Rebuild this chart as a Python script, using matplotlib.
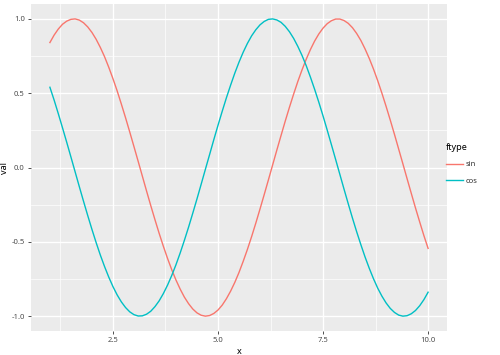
import matplotlib
matplotlib.use("Agg")
import matplotlib.pyplot as plt
from matplotlib.ticker import MultipleLocator
from matplotlib.lines import Line2D

plt.rcParams['font.family'] = ['Noto Sans', 'DejaVu Sans']

x = [1.0, 1.1, 1.2, 1.3, 1.4, 1.5, 1.6, 1.7, 1.8, 1.9,
     2.0, 2.1, 2.2, 2.3, 2.4, 2.5, 2.6, 2.7, 2.8, 2.9,
     3.0, 3.1, 3.2, 3.3, 3.4, 3.5, 3.6, 3.7, 3.8, 3.9,
     4.0, 4.1, 4.2, 4.3, 4.4, 4.5, 4.6, 4.7, 4.8, 4.9,
     5.0, 5.1, 5.2, 5.3, 5.4, 5.5, 5.6, 5.7, 5.8, 5.9,
     6.0, 6.1, 6.2, 6.3, 6.4, 6.5, 6.6, 6.7, 6.8, 6.9,
     7.0, 7.1, 7.2, 7.3, 7.4, 7.5, 7.6, 7.7, 7.8, 7.9,
     8.0, 8.1, 8.2, 8.3, 8.4, 8.5, 8.6, 8.7, 8.8, 8.9,
     9.0, 9.1, 9.2, 9.3, 9.4, 9.5, 9.6, 9.7, 9.8, 9.9, 10.0]
sin_val = [0.841, 0.891, 0.932, 0.964, 0.985, 0.997, 1.000, 0.992, 0.974, 0.946,
           0.909, 0.863, 0.808, 0.746, 0.675, 0.598, 0.516, 0.427, 0.335, 0.239,
           0.141, 0.042, -0.058, -0.158, -0.256, -0.351, -0.443, -0.530, -0.612, -0.688,
           -0.757, -0.818, -0.872, -0.916, -0.952, -0.978, -0.994, -1.000, -0.996, -0.982,
           -0.959, -0.926, -0.883, -0.832, -0.773, -0.706, -0.631, -0.551, -0.465, -0.374,
           -0.279, -0.182, -0.083, 0.017, 0.117, 0.215, 0.312, 0.405, 0.494, 0.579,
           0.657, 0.729, 0.794, 0.851, 0.899, 0.938, 0.968, 0.988, 0.999, 0.999,
           0.989, 0.970, 0.941, 0.902, 0.855, 0.798, 0.734, 0.663, 0.585, 0.501,
           0.412, 0.319, 0.223, 0.124, 0.025, -0.075, -0.174, -0.272, -0.366, -0.458, -0.544]
cos_val = [0.540, 0.454, 0.362, 0.267, 0.170, 0.071, -0.029, -0.129, -0.227, -0.323,
           -0.416, -0.505, -0.589, -0.666, -0.737, -0.801, -0.857, -0.904, -0.942, -0.971,
           -0.990, -0.999, -0.998, -0.987, -0.967, -0.936, -0.897, -0.848, -0.791, -0.726,
           -0.654, -0.575, -0.490, -0.401, -0.307, -0.211, -0.112, -0.012, 0.087, 0.187,
           0.284, 0.378, 0.469, 0.554, 0.635, 0.709, 0.776, 0.835, 0.886, 0.927,
           0.960, 0.983, 0.997, 1.000, 0.993, 0.977, 0.950, 0.914, 0.869, 0.815,
           0.754, 0.685, 0.608, 0.526, 0.439, 0.347, 0.251, 0.153, 0.054, -0.046,
           -0.146, -0.244, -0.340, -0.432, -0.519, -0.602, -0.678, -0.748, -0.811, -0.865,
           -0.911, -0.948, -0.975, -0.993, -1.000, -0.997, -0.984, -0.962, -0.930, -0.889, -0.839]
series_names = ["sin", "cos"]
series_colors = ["#F8766D", "#00BFC4"]
x_ticks = [2.5, 5.0, 7.5, 10.0]
y_ticks = [-1.0, -0.5, 0.0, 0.5, 1.0]

fig = plt.figure(figsize=(5, 3.55), dpi=100)
ax = fig.add_axes([0.062, 0.0676, 0.832, 0.921])
ax.set_facecolor("#EBEBEB")
for s in ax.spines.values():
    s.set_visible(False)

for vals, name, col in zip([sin_val, cos_val], series_names, series_colors):
    ax.plot(x, vals, color=col, lw=1.0, label=name, zorder=3)

ax.set_xlim(1 - 0.45, 10 + 0.45)
ax.set_ylim(-1.1, 1.1)
ax.set_xticks(x_ticks)
ax.set_xticklabels([f"{t:.1f}" for t in x_ticks])
ax.set_yticks(y_ticks)
ax.set_yticklabels([f"{t:.1f}" for t in y_ticks])
ax.xaxis.set_minor_locator(MultipleLocator(1.25))
ax.yaxis.set_minor_locator(MultipleLocator(0.25))
ax.grid(which="major", color="white", lw=1.0, zorder=0)
ax.grid(which="minor", color="white", lw=0.5, zorder=0)
ax.set_axisbelow(True)
ax.tick_params(which="major", length=2.5, width=0.6, color="#333333",
               labelsize=5.5, labelcolor="#4D4D4D", pad=2)
ax.tick_params(which="minor", length=0)
ax.set_xlabel("x", fontsize=6.5, labelpad=2, color="black")
ax.set_ylabel("val", fontsize=6.5, labelpad=2, color="black")

handles = [Line2D([0], [0], color=c, lw=1.0) for c in series_colors]
leg = fig.legend(handles, series_names, title="ftype", loc="upper left",
                 bbox_to_anchor=(0.878, 0.617), frameon=False, fontsize=5.5,
                 title_fontsize=6.5, handlelength=2.2, labelspacing=1.2,
                 handletextpad=0.4, alignment="left")
for t in leg.get_texts():
    t.set_color("#333333")

fig.savefig("out.png", dpi=100)
